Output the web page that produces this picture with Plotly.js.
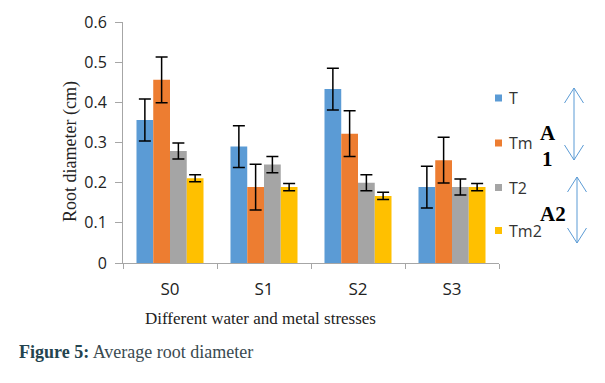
<!DOCTYPE html>
<html>
<head>
<meta charset="utf-8">
<script src="https://cdn.plot.ly/plotly-3.0.1.min.js"></script>
<style>html,body{margin:0;padding:0;background:#fff;}#chart{width:605px;height:383px;}</style>
</head>
<body>
<div id="chart"></div>
<script>
// ---- data ----
const categories = ["S0", "S1", "S2", "S3"];
const seriesNames = ["T", "Tm", "T2", "Tm2"];
const valuesT   = [0.356, 0.290, 0.433, 0.189];
const valuesTm  = [0.456, 0.189, 0.322, 0.256];
const valuesT2  = [0.279, 0.245, 0.200, 0.189];
const valuesTm2 = [0.211, 0.189, 0.167, 0.189];
const errT   = [0.052, 0.052, 0.052, 0.052];
const errTm  = [0.057, 0.057, 0.057, 0.057];
const errT2  = [0.020, 0.020, 0.020, 0.020];
const errTm2 = [0.009, 0.009, 0.009, 0.009];
const yTickVals = [0, 0.1, 0.2, 0.3, 0.4, 0.5, 0.6];
const yTickText = ["0", "0.1", "0.2", "0.3", "0.4", "0.5", "0.6"];

const colors = ["#5b9bd5", "#ed7d31", "#a5a5a5", "#ffc000"];
const allValues = [valuesT, valuesTm, valuesT2, valuesTm2];
const allErr = [errT, errTm, errT2, errTm2];

// plot area in pixels
const W = 605, H = 383, L = 123, R = 106, T = 22, B = 120;
const pw = W - L - R, ph = H - T - B;
const px = x => (x - L) / pw;
const py = y => (H - B - y) / ph;

const traces = seriesNames.map((name, i) => ({
  type: "bar",
  name: name,
  x: categories,
  y: allValues[i],
  marker: {color: colors[i], line: {width: 0}},
  error_y: {type: "data", array: allErr[i], visible: true, color: "#000000", thickness: 1.5, width: 6},
  showlegend: false,
  hoverinfo: "skip"
}));

const shapes = [];
const annotations = [];

// manual legend
const legendY = [98, 143, 187.5, 230.5];
seriesNames.forEach((name, i) => {
  shapes.push({type: "rect", xref: "paper", yref: "paper",
    x0: px(495), x1: px(502), y0: py(legendY[i] + 3.5), y1: py(legendY[i] - 3.5),
    fillcolor: colors[i], line: {width: 0}});
  annotations.push({xref: "paper", yref: "paper", x: px(507), y: py(legendY[i]),
    xanchor: "left", yanchor: "middle", showarrow: false, text: name,
    font: {family: "Open Sans, sans-serif", size: 16, color: "#333333"}});
});

// double-headed arrows
function dblArrow(x, y0, y1) {
  const hw = 9.5, hh = 15;
  shapes.push({type: "line", xref: "paper", yref: "paper", x0: px(x), x1: px(x), y0: py(y0), y1: py(y1),
    line: {color: "#5b9bd5", width: 1}});
  [[x - hw, y0 + hh, x, y0], [x + hw, y0 + hh, x, y0], [x - hw, y1 - hh, x, y1], [x + hw, y1 - hh, x, y1]].forEach(s => {
    shapes.push({type: "line", xref: "paper", yref: "paper", x0: px(s[0]), y0: py(s[1]), x1: px(s[2]), y1: py(s[3]),
      line: {color: "#5b9bd5", width: 1}});
  });
}
dblArrow(574, 88, 160);
dblArrow(577, 177, 243);

const bold = {family: "Liberation Serif, Times New Roman, serif", size: 21, color: "#000000"};
annotations.push({xref: "paper", yref: "paper", x: px(548), y: py(133), showarrow: false, text: "<b>A</b>", font: bold, xanchor: "center", yanchor: "middle"});
annotations.push({xref: "paper", yref: "paper", x: px(547), y: py(159), showarrow: false, text: "<b>1</b>", font: bold, xanchor: "center", yanchor: "middle"});
annotations.push({xref: "paper", yref: "paper", x: px(553), y: py(214), showarrow: false, text: "<b>A2</b>", font: bold, xanchor: "center", yanchor: "middle"});

// axis titles
annotations.push({xref: "paper", yref: "paper", x: px(260), y: py(318), showarrow: false,
  text: "Different water and metal stresses", xanchor: "center", yanchor: "middle",
  font: {family: "Liberation Serif, Times New Roman, serif", size: 17, color: "#222222"}});
annotations.push({xref: "paper", yref: "paper", x: px(70), y: py(152), showarrow: false, textangle: -90,
  text: "Root diameter (cm)", xanchor: "center", yanchor: "middle",
  font: {family: "Liberation Serif, Times New Roman, serif", size: 18, color: "#222222"}});

// caption
annotations.push({xref: "paper", yref: "paper", x: px(17), y: py(352), showarrow: false, xanchor: "left", yanchor: "middle",
  text: "<b><span style='color:#24444f'>Figure 5:</span></b> Average root diameter",
  font: {family: "Liberation Serif, Times New Roman, serif", size: 18, color: "#3a4a50"}});

const layout = {
  width: W, height: H,
  margin: {l: L, r: R, t: T, b: B, pad: 0},
  paper_bgcolor: "#ffffff", plot_bgcolor: "#ffffff",
  barmode: "group", bargap: 0.287, bargroupgap: 0,
  showlegend: false,
  xaxis: {type: "category", showline: true, linecolor: "#a6a6a6", linewidth: 1,
    ticks: "outside", tickson: "boundaries", ticklen: 5, tickcolor: "#a6a6a6", ticklabelstandoff: 11,
    showgrid: false, zeroline: false, range: [-0.5, 3.5], fixedrange: true,
    tickfont: {family: "Open Sans, sans-serif", size: 17, color: "#222222"}},
  yaxis: {range: [0, 0.6], tickvals: yTickVals, ticktext: yTickText, showline: true, linecolor: "#a6a6a6", linewidth: 1,
    ticks: "outside", ticklen: 7, tickcolor: "#a6a6a6", ticklabelstandoff: 5, showgrid: false, zeroline: false, fixedrange: true,
    tickfont: {family: "Open Sans, sans-serif", size: 16, color: "#222222"}},
  shapes: shapes,
  annotations: annotations
};

Plotly.newPlot("chart", traces, layout, {displayModeBar: false, staticPlot: true});
</script>
</body>
</html>
